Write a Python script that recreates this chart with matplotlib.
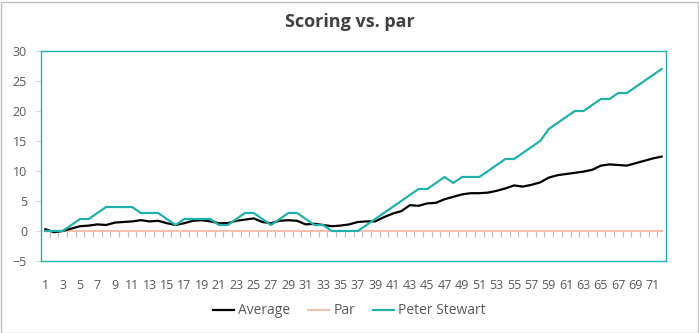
import numpy as np
import matplotlib
matplotlib.use("Agg")
import matplotlib.pyplot as plt
from matplotlib.patches import Rectangle

plt.rcParams["font.family"] = ["Open Sans", "DejaVu Sans"]

# 数据
holes = np.arange(1, 73)
average = [0.3, -0.2, 0.0, 0.4, 0.8, 0.9, 1.1, 1.0, 1.4, 1.5,
           1.6, 1.8, 1.6, 1.7, 1.3, 1.0, 1.3, 1.7, 1.8, 1.6,
           1.3, 1.3, 1.7, 1.9, 2.1, 1.5, 1.3, 1.7, 1.8, 1.7,
           1.1, 1.2, 1.0, 0.8, 0.9, 1.1, 1.5, 1.6, 1.6, 2.3,
           2.9, 3.3, 4.3, 4.2, 4.6, 4.7, 5.3, 5.7, 6.1, 6.3,
           6.3, 6.4, 6.7, 7.1, 7.6, 7.4, 7.7, 8.1, 8.9, 9.3,
           9.5, 9.7, 9.9, 10.2, 10.9, 11.1, 11.0, 10.9, 11.3, 11.7,
           12.1, 12.4]
par = [0] * 72
peter = [0, 0, 0, 1, 2, 2, 3, 4, 4, 4,
         4, 3, 3, 3, 2, 1, 2, 2, 2, 2,
         1, 1, 2, 3, 3, 2, 1, 2, 3, 3,
         2, 1, 1, 0, 0, 0, 0, 1, 2, 3,
         4, 5, 6, 7, 7, 8, 9, 8, 9, 9,
         9, 10, 11, 12, 12, 13, 14, 15, 17, 18,
         19, 20, 20, 21, 22, 22, 23, 23, 24, 25,
         26, 27]
y_ticks = list(range(-5, 31, 5))

teal = "#22b1aa"
pink = "#f6bfae"
grey = "#595959"

fig = plt.figure(figsize=(6.99, 3.33), dpi=100)
ax = fig.add_axes([41 / 699, 1 - 261 / 333, 625 / 699, 210 / 333])

ax.plot(holes, par, color=pink, linewidth=1.5, label="Par", zorder=2)
ax.plot(holes, average, color="black", linewidth=1.6, label="Average", zorder=3)
ax.plot(holes, peter, color=teal, linewidth=1.6, label="Peter Stewart", zorder=4)

ax.set_xlim(0.5, 72.5)
ax.set_ylim(-5, 30)
ax.set_yticks(y_ticks)
ax.set_xticks(holes[::2])
ax.tick_params(axis="x", length=0, pad=13, labelsize=9, labelcolor=grey)
ax.tick_params(axis="y", length=4, width=0.8, color="#d9d9d9", pad=6,
               labelsize=9, labelcolor=grey)
for s in ax.spines.values():
    s.set_color(teal)
    s.set_linewidth(1.0)

# 0 位置的分类轴刻度
sec = ax.secondary_xaxis(0, transform=ax.transData)
sec.set_xticks(np.arange(1.5, 72, 1))
sec.tick_params(length=4, width=0.8, color="#bfbfbf", labelbottom=False)
sec.spines["bottom"].set_visible(False)

fig.suptitle("Scoring vs. par", x=0.5, y=1 - 13 / 333, fontsize=13,
             fontweight="bold", color="#404040", va="top")

handles, labels = ax.get_legend_handles_labels()
order = [1, 0, 2]
fig.legend([handles[i] for i in order], [labels[i] for i in order],
           loc="center", bbox_to_anchor=(0.5, 1 - 311 / 333), ncol=3,
           frameon=False, fontsize=10, handlelength=1.5, handletextpad=0.3,
           columnspacing=1.3, labelcolor=grey)

fig.patches.append(Rectangle((0.5 / 699, 0.5 / 333), 697 / 699, 331 / 333,
                             transform=fig.transFigure, fill=False,
                             edgecolor="#bfbfbf", linewidth=1.0))

fig.savefig("out.png", dpi=100)
